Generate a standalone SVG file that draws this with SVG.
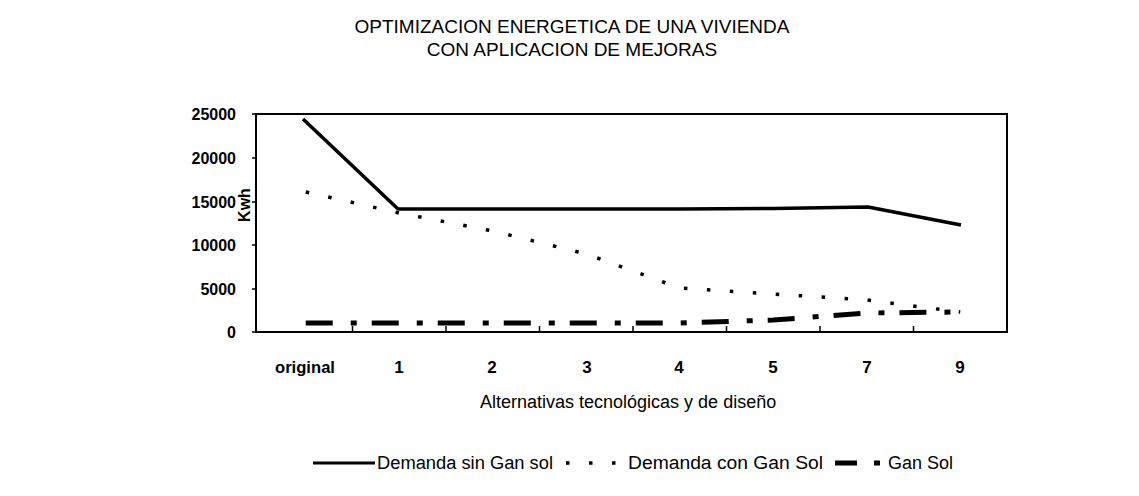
<svg xmlns="http://www.w3.org/2000/svg" width="1139" height="496" viewBox="0 0 1139 496">
  <style>
    .t { font-family: "Liberation Sans", Arial, sans-serif; fill: #000; }
    .title { font-size: 19px; text-anchor: middle; }
    .ylab { font-size: 16px; font-weight: bold; text-anchor: end; }
    .xlab { font-size: 17px; font-weight: bold; text-anchor: middle; }
    .axt { font-size: 18px; }
    .leg { font-size: 18px; }
    .s1 { fill: none; stroke: #000; stroke-width: 3.5; stroke-linejoin: round; }
    .s2 { fill: none; stroke: #000; stroke-width: 3.5; stroke-dasharray: 3.5 19.5; }
    .s3 { fill: none; stroke: #000; stroke-width: 5; stroke-dasharray: 27 18 6 15; }
  </style>
  <rect width="1139" height="496" fill="#fff"/>

  <g id="title">
    <text class="t title" x="572" y="33">OPTIMIZACION ENERGETICA DE UNA VIVIENDA</text>
    <text class="t title" x="572" y="56">CON APLICACION DE MEJORAS</text>
  </g>

  <g id="plot-frame">
    <rect x="256" y="114" width="751" height="218" fill="none" stroke="#000" stroke-width="2"/>
    <path d="M252 114H256M252 158H256M252 202H256M252 245H256M252 289H256M252 332H256" stroke="#000" stroke-width="1.5"/>
    <path d="M352.5 332V326M446 332V326M539.5 332V326M633 332V326M726.5 332V326M820 332V326M913.5 332V326" stroke="#000" stroke-width="1.5"/>
  </g>

  <g id="y-axis">
    <text class="t ylab" x="236" y="120">25000</text>
    <text class="t ylab" x="236" y="164">20000</text>
    <text class="t ylab" x="236" y="208">15000</text>
    <text class="t ylab" x="236" y="251">10000</text>
    <text class="t ylab" x="236" y="295">5000</text>
    <text class="t ylab" x="236" y="338">0</text>
    <text class="t ylab" x="250" y="205" transform="rotate(-90 250 205)" style="text-anchor:middle">Kwh</text>
  </g>

  <g id="x-axis">
    <text class="t xlab" x="305" y="373" textLength="60" lengthAdjust="spacingAndGlyphs">original</text>
    <text class="t xlab" x="399" y="373">1</text>
    <text class="t xlab" x="492" y="373">2</text>
    <text class="t xlab" x="587" y="373">3</text>
    <text class="t xlab" x="679" y="373">4</text>
    <text class="t xlab" x="773" y="373">5</text>
    <text class="t xlab" x="867" y="373">7</text>
    <text class="t xlab" x="960" y="373">9</text>
    <text class="t axt" x="480" y="408">Alternativas tecnológicas y de diseño</text>
  </g>

  <g id="connectors">
    <polyline id="demanda-sin" class="s1" points="303,119 398,209 492.75,209 586.25,209 679.75,209 773.25,208.5 868,207 961,225"/>
    <polyline id="demanda-con" class="s2" points="305.75,192 399.25,213 492.75,231 586.25,254 679.75,288 773.25,294 866.75,300 960.25,312"/>
    <polyline id="gan-sol" class="s3" points="305.75,323 399.25,323 492.75,323 586.25,323 679.75,323 773.25,320 866.75,313 960.25,312"/>
  </g>

  <g id="legend">
    <path d="M313 463H375" stroke="#000" stroke-width="3"/>
    <text class="t leg" x="377" y="469" textLength="176" lengthAdjust="spacingAndGlyphs">Demanda sin Gan sol</text>
    <path d="M566 463H616" stroke="#000" stroke-width="3.5" stroke-dasharray="3.5 19.5"/>
    <text class="t leg" x="628" y="469" textLength="195" lengthAdjust="spacingAndGlyphs">Demanda con Gan Sol</text>
    <path d="M835 463H857M874 463H880" stroke="#000" stroke-width="5"/>
    <text class="t leg" x="888" y="469" textLength="65" lengthAdjust="spacingAndGlyphs">Gan Sol</text>
  </g>
</svg>
